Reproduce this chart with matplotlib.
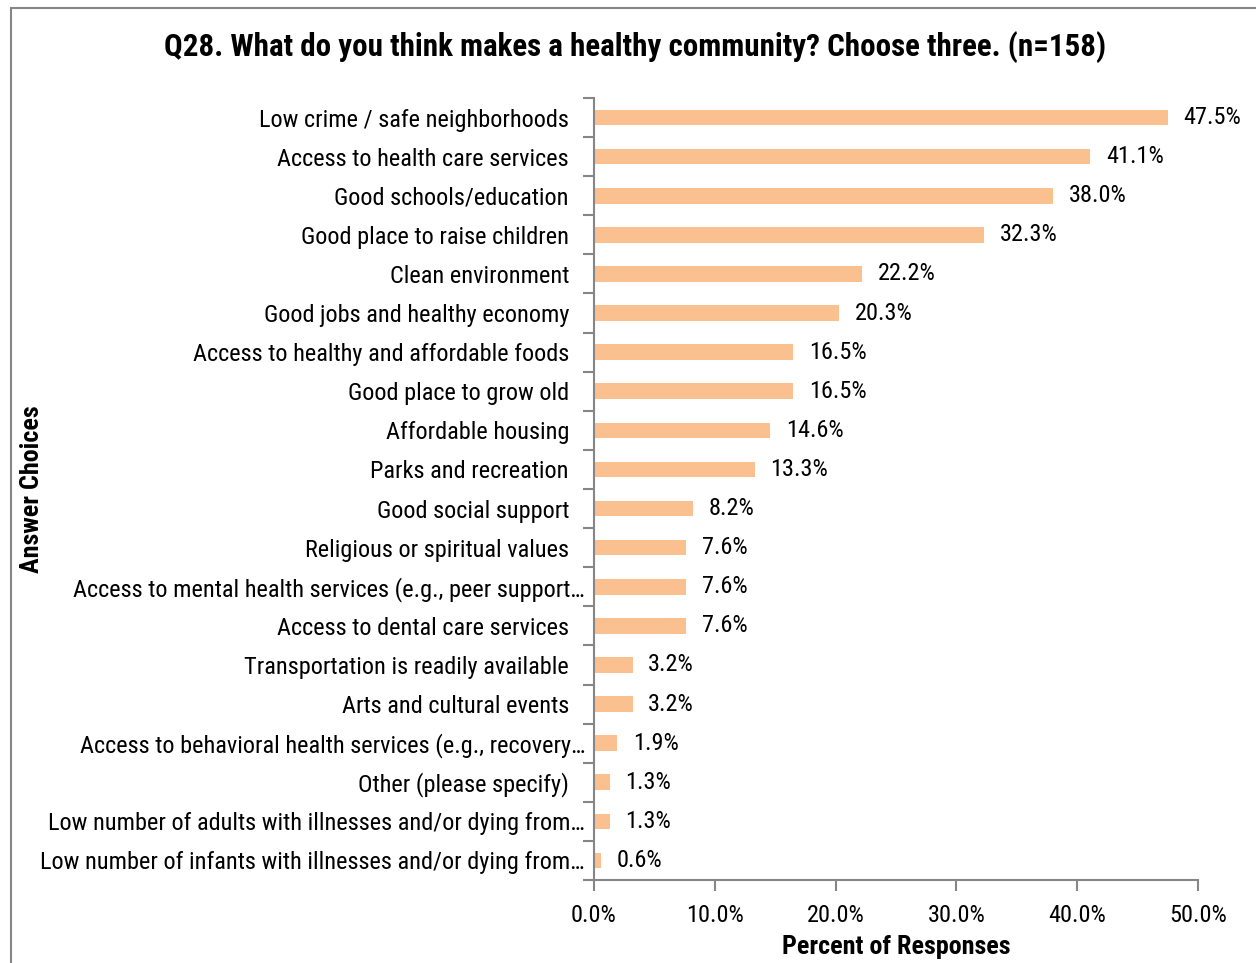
import matplotlib
matplotlib.use("Agg")
import matplotlib.pyplot as plt
from matplotlib import font_manager
from matplotlib.font_manager import FontProperties
from matplotlib.patches import Rectangle
from matplotlib.transforms import ScaledTranslation

categories = [
    "Low crime / safe neighborhoods",
    "Access to health care services",
    "Good schools/education",
    "Good place to raise children",
    "Clean environment",
    "Good jobs and healthy economy",
    "Access to healthy and affordable foods",
    "Good place to grow old",
    "Affordable housing",
    "Parks and recreation",
    "Good social support",
    "Religious or spiritual values",
    "Access to mental health services (e.g., peer support\u2026",
    "Access to dental care services",
    "Transportation is readily available",
    "Arts and cultural events",
    "Access to behavioral health services (e.g., recovery\u2026",
    "Other (please specify)",
    "Low number of adults with illnesses and/or dying from\u2026",
    "Low number of infants with illnesses and/or dying from\u2026",
]
values = [47.5, 41.1, 38.0, 32.3, 22.2, 20.3, 16.5, 16.5, 14.6, 13.3,
          8.2, 7.6, 7.6, 7.6, 3.2, 3.2, 1.9, 1.3, 1.3, 0.6]
xticks = [0, 10, 20, 30, 40, 50]


def narrow_font(names, size):
    # the original uses Arial Narrow, pick the closest condensed face installed
    files = {f.fname.split('/')[-1]: f.fname for f in font_manager.fontManager.ttflist}
    for n in names:
        if n in files:
            return FontProperties(fname=files[n], size=size)
    return FontProperties(family='DejaVu Sans', stretch='condensed', size=size)


reg = ['RobotoCondensed-Regular.ttf', 'PT_Sans-Narrow-Web-Regular.ttf', 'DejaVuSansCondensed.ttf']
bold = ['RobotoCondensed-Bold.ttf', 'PT_Sans-Narrow-Web-Bold.ttf', 'DejaVuSansCondensed-Bold.ttf']
fp = narrow_font(reg, 17.5)
fp_bold = narrow_font(bold, 18.8)
fp_title = narrow_font(bold, 22.3)

fig = plt.figure(figsize=(12.56, 9.63), dpi=100)
fig.patches.append(Rectangle((11 / 1256, -0.01), 1.1, 1 - 8 / 963 + 0.01,
                             transform=fig.transFigure, fill=False,
                             edgecolor='#868686', linewidth=1.5))
ax = fig.add_axes([594 / 1256, 83 / 963, 604 / 1256, 782 / 963])

n = len(categories)
ypos = list(range(n))[::-1]
ax.barh(ypos, values, height=0.4, color='#FAC090')
for y, v in zip(ypos, values):
    ax.text(v + 1.3, y, f"{v:.1f}%", va='center', ha='left', fontproperties=fp)

ax.set_xlim(0, 50)
ax.set_ylim(-0.5, n - 0.5)
ax.set_xticks(xticks)
ax.set_xticklabels([f"{t:.1f}%" for t in xticks], fontproperties=fp)
ax.set_yticks(ypos)
ax.set_yticklabels(categories, fontproperties=fp)
ax.set_yticks([i - 0.5 for i in range(n + 1)], minor=True)
ax.tick_params(axis='y', which='major', length=0, pad=18)
ax.tick_params(axis='y', which='minor', length=8, color='#868686', width=1.5)
ax.tick_params(axis='x', length=8, color='#868686', width=1.5, pad=9)

# truncated labels run right up to the axis in the original
shift = ScaledTranslation(0.16, 0, fig.dpi_scale_trans)
for lab in ax.get_yticklabels():
    if lab.get_text().endswith('\u2026'):
        lab.set_transform(lab.get_transform() + shift)

for s in ['top', 'right']:
    ax.spines[s].set_visible(False)
for s in ['left', 'bottom']:
    ax.spines[s].set_color('#868686')
    ax.spines[s].set_linewidth(1.5)

ax.set_xlabel("Percent of Responses", fontproperties=fp_bold, labelpad=6)
fig.text(32 / 1256, 1 - 489 / 963, "Answer Choices", rotation=90, fontproperties=fp_bold,
         ha='center', va='center')
fig.text(635 / 1256, 1 - 47 / 963, "Q28. What do you think makes a healthy community? Choose three. (n=158)",
         fontproperties=fp_title, ha='center', va='center')

fig.savefig("out.png", dpi=100)
